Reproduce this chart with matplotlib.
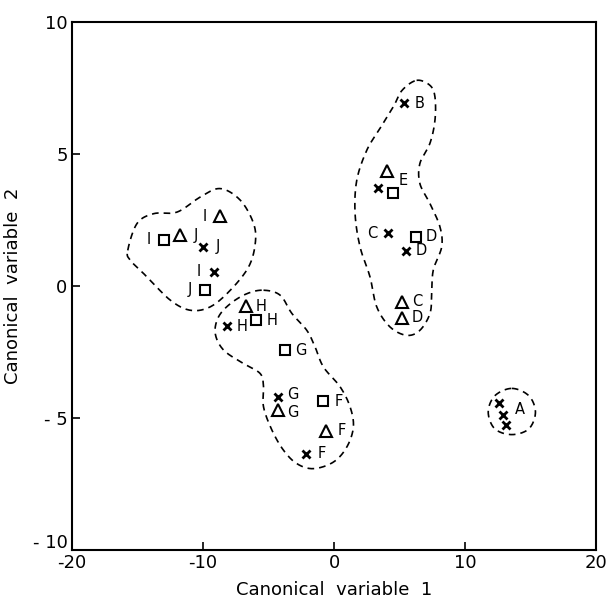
import numpy as np
import matplotlib
matplotlib.use('Agg')
import matplotlib.pyplot as plt
import matplotlib.transforms as mtransforms

# values
cross_x = [5.35, 3.32, 4.09, 5.48, -9.99, -9.19, -8.19, -4.29, -2.13, 12.58, 12.88, 13.09]
cross_y = [6.94, 3.74, 2.00, 1.34, 1.49, 0.54, -1.51, -4.19, -6.34, -4.42, -4.89, -5.27]
cross_lab = ['B', '', 'C', 'D', 'J', 'I', 'H', 'G', 'F', '', 'A', '']
cross_side = ['r', '', 'l', 'r', 'r', 'l', 'r', 'ru', 'r', '', 'ra', '']

tri_x = [4.01, 5.17, 5.17, -8.68, -11.72, -6.72, -4.29, -0.61]
tri_y = [4.36, -0.59, -1.19, 2.66, 1.93, -0.76, -4.70, -5.48]
tri_lab = ['', 'C', 'D', 'I', 'J', 'H', 'G', 'F']
tri_side = ['', 'r', 'r', 'l', 'r', 'r', 'rd', 'r']

sq_x = [4.51, 6.24, -12.99, -9.82, -5.93, -3.73, -0.81]
sq_y = [3.53, 1.87, 1.77, -0.13, -1.29, -2.42, -4.36]
sq_lab = ['E', 'D', 'I', 'J', 'H', 'G', 'F']
sq_side = ['ur', 'r', 'l', 'l', 'r', 'r', 'r']

# dashed group outlines (control points)
ij_x = [-15.73, -15.02, -13.75, -11.97, -10.20, -8.68, -7.15, -6.14, -6.01, -6.52, -7.91, -9.44, -10.96, -12.48, -14.25, -15.53]
ij_y = [1.36, 2.38, 2.75, 2.81, 3.38, 3.70, 3.26, 2.38, 1.62, 0.73, -0.15, -0.78, -0.91, -0.53, 0.35, 0.98]

fgh_x = [-5.38, -4.11, -3.22, -2.08, -1.45, -0.81, 0.46, 1.22, 1.47, 0.97, -0.05, -1.58, -2.84, -3.86, -4.74, -5.38, -5.38, -5.63, -6.90, -8.42, -9.06, -8.81, -7.91, -6.64]
fgh_y = [-0.15, -0.34, -1.03, -1.67, -2.30, -3.06, -3.81, -4.57, -5.33, -6.09, -6.66, -6.91, -6.72, -6.21, -5.45, -4.57, -3.81, -3.31, -2.93, -2.42, -1.79, -1.16, -0.66, -0.28]

bcde_x = [6.29, 7.31, 7.69, 7.69, 7.31, 6.54, 6.54, 7.31, 8.07, 8.20, 7.56, 7.44, 7.31, 6.54, 5.53, 4.26, 3.25, 2.74, 1.98, 1.60, 1.73, 2.49, 3.50, 4.51, 5.18]
bcde_y = [7.80, 7.61, 7.17, 6.29, 5.42, 4.65, 3.89, 3.13, 2.25, 1.49, 0.61, -0.28, -1.03, -1.67, -1.86, -1.54, -0.78, 0.35, 1.49, 2.75, 4.02, 5.15, 5.98, 6.79, 7.42]

a_x = [13.55, 14.85, 15.35, 14.85, 13.55, 12.25, 11.75, 12.25]
a_y = [-3.87, -4.15, -4.77, -5.40, -5.62, -5.40, -4.77, -4.15]


def closed_spline(xs, ys, n=20):
    # periodic Catmull-Rom through the control points
    p = np.column_stack([xs, ys])
    k = len(p)
    out = []
    t = np.linspace(0, 1, n, endpoint=False)[:, None]
    for i in range(k):
        p0, p1, p2, p3 = p[(i - 1) % k], p[i], p[(i + 1) % k], p[(i + 2) % k]
        seg = 0.5 * ((2 * p1) + (-p0 + p2) * t + (2 * p0 - 5 * p1 + 4 * p2 - p3) * t ** 2
                     + (-p0 + 3 * p1 - 3 * p2 + p3) * t ** 3)
        out.append(seg)
    out = np.vstack(out)
    out = np.vstack([out, out[:1]])
    return out[:, 0], out[:, 1]


offsets = {'r': (11, 0), 'l': (-11, 0), 'ur': (7, 9), 'ra': (12, 4),
           'ru': (11, 1.5), 'rd': (11, -1.5)}

fig = plt.figure(figsize=(6.08, 6.02), dpi=100)
ax = fig.add_axes([0.118, 0.086, 0.863, 0.877])

for xs, ys in [(ij_x, ij_y), (fgh_x, fgh_y), (bcde_x, bcde_y), (a_x, a_y)]:
    cx, cy = closed_spline(xs, ys)
    ax.plot(cx, cy, color='black', lw=1.2, linestyle=(0, (4, 3)))

ax.plot(cross_x, cross_y, 'x', color='black', ms=5.5, mew=2.0)
ax.plot(tri_x, tri_y, '^', color='black', mfc='none', ms=8, mew=1.5)
ax.plot(sq_x, sq_y, 's', color='black', mfc='none', ms=6.5, mew=1.5)

for xs, ys, labs, sides in [(cross_x, cross_y, cross_lab, cross_side),
                            (tri_x, tri_y, tri_lab, tri_side),
                            (sq_x, sq_y, sq_lab, sq_side)]:
    for x, y, lab, side in zip(xs, ys, labs, sides):
        if lab:
            ax.annotate(lab, (x, y), xytext=offsets[side], textcoords='offset points',
                        ha='center', va='center', fontsize=10.5)

ax.set_xlim(-20, 20)
ax.set_ylim(-10, 10)
ax.set_xticks([-20, -10, 0, 10, 20])
ax.set_xticklabels(['-20', '-10', '0', '10', '20'])
ax.set_yticks([-10, -5, 0, 5, 10])
ax.set_yticklabels(['- 10', '- 5', '0', '5', '10'])
ax.tick_params(direction='in', length=6, width=1.2, labelsize=13, pad=3)
for s in ax.spines.values():
    s.set_linewidth(1.5)
ax.set_xlabel('Canonical  variable  1', fontsize=13, labelpad=6)
ax.set_ylabel('Canonical  variable  2', fontsize=13, labelpad=8)

# corner: lift the y "-10" so it sits above the x "-20"
lab_y = ax.get_yticklabels()[0]
lab_y.set_transform(lab_y.get_transform() + mtransforms.ScaledTranslation(0, 7 / 72, fig.dpi_scale_trans))

fig.savefig('out.png', dpi=100)
